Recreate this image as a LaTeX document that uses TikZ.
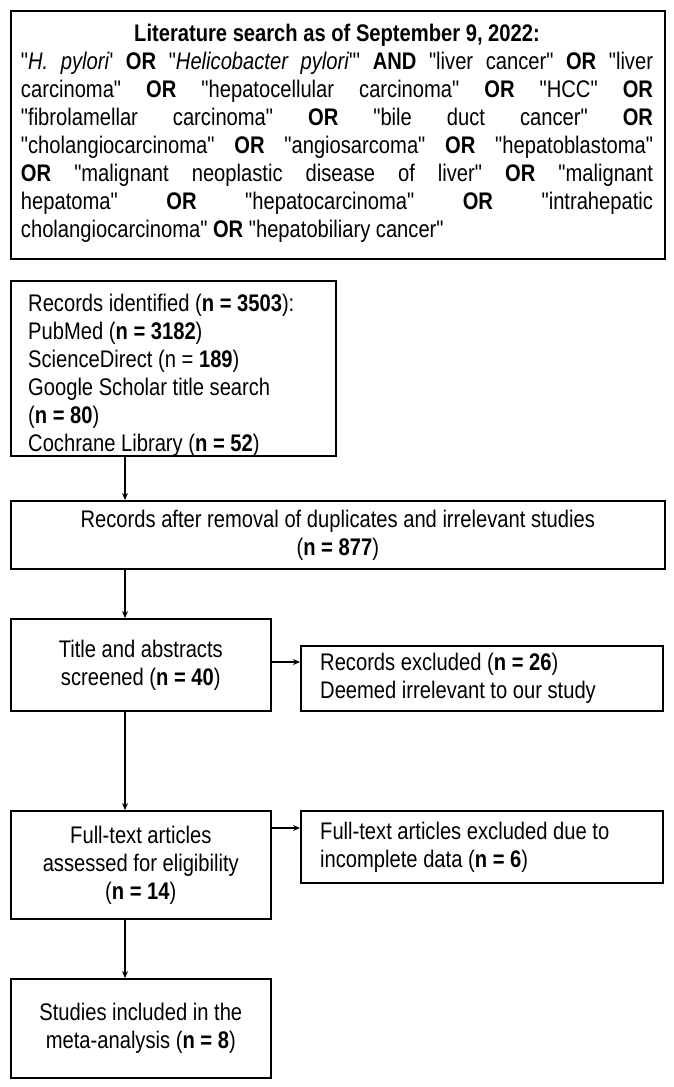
\documentclass[tikz,border=0pt]{standalone}
\usepackage{fontspec}
\setmainfont[Ligatures=TeXOff,FakeStretch=0.84]{Liberation Sans}
\usetikzlibrary{arrows.meta}
\newcommand\qq{\symbol{34}}

\begin{document}
\begin{tikzpicture}[x=1pt,y=-1pt,
  box/.style={draw,line width=1.6pt,inner sep=0pt},
  flow/.style={-{Stealth[length=7pt,width=6pt]},line width=1.2pt}]
 \useasboundingbox (0,0) rectangle (674,1087);
 \fontsize{24}{28}\selectfont
 % search box
 \node[box,minimum width=654,minimum height=248,anchor=north west] (search) at (10,10) {};
 \node[anchor=north,text width=632,align=justify] (query) at (337,16) {%
  \centerline{\bfseries Literature search as of September 9, 2022:}
  \qq\textit{H. pylori}' \textbf{OR} \qq\textit{Helicobacter pylori}\qq' \textbf{AND} \qq liver cancer\qq\ \textbf{OR} \qq liver\linebreak
  carcinoma\qq\ \textbf{OR} \qq hepatocellular carcinoma\qq\ \textbf{OR} \qq HCC\qq\ \textbf{OR}\linebreak
  \qq fibrolamellar carcinoma\qq\ \textbf{OR} \qq bile duct cancer\qq\ \textbf{OR}\linebreak
  \qq cholangiocarcinoma\qq\ \textbf{OR} \qq angiosarcoma\qq\ \textbf{OR} \qq hepatoblastoma\qq\linebreak
  \textbf{OR} \qq malignant neoplastic disease of liver\qq\ \textbf{OR} \qq malignant\linebreak
  hepatoma\qq\ \textbf{OR} \qq hepatocarcinoma\qq\ \textbf{OR} \qq intrahepatic\linebreak
  cholangiocarcinoma\qq\ \textbf{OR} \qq hepatobiliary cancer\qq\par};
 % flow boxes
 \node[box,minimum width=325,minimum height=175,anchor=north west] (ident) at (10,280) {};
 \node[anchor=north west,align=left] (identtext) at (20,286) {%
  Records identified (\textbf{n = 3503}):\\ PubMed (\textbf{n = 3182})\\ ScienceDirect (n = \textbf{189})\\
  Google Scholar title search\\ (\textbf{n = 80})\\ Cochrane Library (\textbf{n = 52})};
 \node[box,minimum width=654,minimum height=68,anchor=north west,align=center] (dedup) at (10,500)
  {Records after removal of duplicates and irrelevant studies\\ (\textbf{n = 877})};
 \node[box,minimum width=260,minimum height=92,anchor=north west,align=center] (screen) at (10,618)
  {Title and abstracts\\ screened (\textbf{n = 40})};
 \node[box,minimum width=362,minimum height=65,anchor=north west] (excl1) at (300,645) {};
 \node[anchor=west,align=left] at (excl1.west) [xshift=12pt]
  {Records excluded (\textbf{n = 26})\\ Deemed irrelevant to our study};
 \node[box,minimum width=260,minimum height=108,anchor=north west,align=center] (full) at (10,810)
  {Full-text articles\\ assessed for eligibility\\ (\textbf{n = 14})};
 \node[box,minimum width=362,minimum height=72,anchor=north west] (excl2) at (300,810) {};
 \node[anchor=west,align=left] at (excl2.west) [xshift=12pt]
  {Full-text articles excluded due to\\ incomplete data (\textbf{n = 6})};
 \node[box,minimum width=260,minimum height=99,anchor=north west,align=center] (incl) at (10,978)
  {Studies included in the\\ meta-analysis (\textbf{n = 8})};
 % arrows
 \draw[flow] (ident.south -| 125,0) -- (dedup.north -| 125,0);
 \draw[flow] (dedup.south -| 125,0) -- (screen.north -| 125,0);
 \draw[flow] (screen.south -| 125,0) -- (full.north -| 125,0);
 \draw[flow] (full.south -| 125,0) -- (incl.north -| 125,0);
 \draw[flow] (screen.east |- 0,662) -- (excl1.west |- 0,662);
 \draw[flow] (full.east |- 0,828) -- (excl2.west |- 0,828);
\end{tikzpicture}
\end{document}
